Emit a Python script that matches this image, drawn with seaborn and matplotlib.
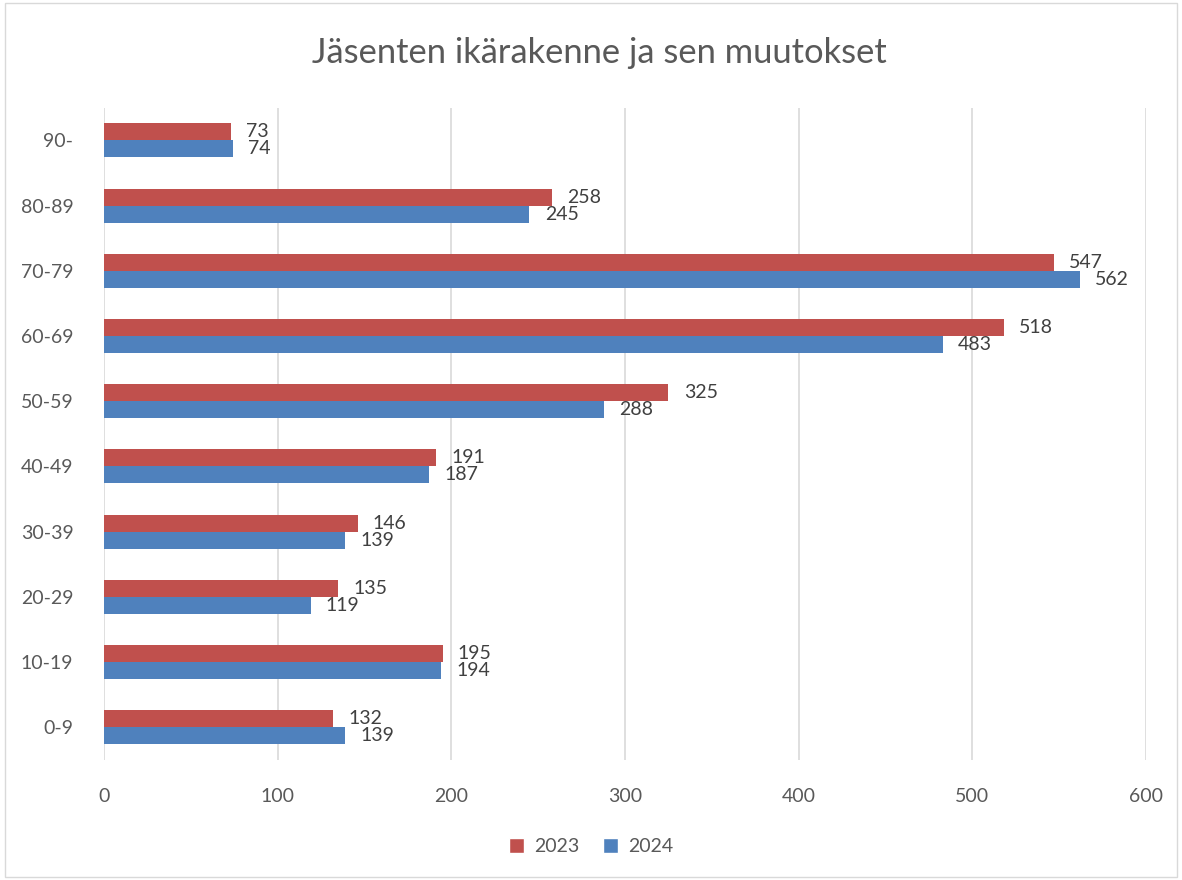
import matplotlib
matplotlib.use("Agg")
import matplotlib.pyplot as plt
import seaborn as sns
import pandas as pd
from matplotlib.patches import Patch

categories = ["90-", "80-89", "70-79", "60-69", "50-59", "40-49", "30-39", "20-29", "10-19", "0-9"]
values_2023 = [73, 258, 547, 518, 325, 191, 146, 135, 195, 132]
values_2024 = [74, 245, 562, 483, 288, 187, 139, 119, 194, 139]
years = ["2023", "2024"]
x_ticks = [0, 100, 200, 300, 400, 500, 600]

df = pd.DataFrame({
    "Ikä": categories * 2,
    "Vuosi": [years[0]] * len(categories) + [years[1]] * len(categories),
    "Jäsenet": values_2023 + values_2024,
})

sns.set_theme(style="white")
plt.rcParams["font.family"] = ["Lato", "DejaVu Sans"]

red = "#C0504D"
blue = "#4F81BD"
txt = "#595959"

fig = plt.figure(figsize=(11.82, 8.80), dpi=100)
ax = fig.add_axes([0.088, 0.1365, 0.8815, 0.741])

sns.barplot(data=df, y="Ikä", x="Jäsenet", hue="Vuosi", order=categories,
            hue_order=years, palette=[red, blue], orient="h", width=0.52,
            ax=ax, legend=False, saturation=1, linewidth=0)

for cont in ax.containers:
    ax.bar_label(cont, labels=[f"{int(v)}" for v in cont.datavalues],
                 padding=11, fontsize=14, color="#404040")

ax.set_xlim(0, 600)
ax.set_xticks(x_ticks)
ax.set_xlabel("")
ax.set_ylabel("")
ax.grid(axis="x", color="#D9D9D9", linewidth=1.2)
ax.set_axisbelow(True)
for s in ax.spines.values():
    s.set_visible(False)
ax.tick_params(axis="x", labelsize=14, colors=txt, pad=20, length=0)
ax.tick_params(axis="y", labelsize=14, colors=txt, pad=22, length=0)

fig.text(0.507, 0.94, "Jäsenten ikärakenne ja sen muutokset", ha="center",
         va="center", fontsize=24.8, color=txt)

handles = [Patch(facecolor=red, label="2023"), Patch(facecolor=blue, label="2024")]
fig.legend(handles=handles, loc="center", bbox_to_anchor=(0.5, 0.038), ncol=2,
           frameon=False, fontsize=14, handlelength=0.8, handleheight=0.8,
           columnspacing=1.2, handletextpad=0.5, labelcolor=txt)

fig.patches.append(plt.Rectangle((0.004, 0.003), 0.992, 0.994, transform=fig.transFigure,
                                 fill=False, edgecolor="#D9D9D9", linewidth=1))

fig.savefig("out.png", dpi=100)
